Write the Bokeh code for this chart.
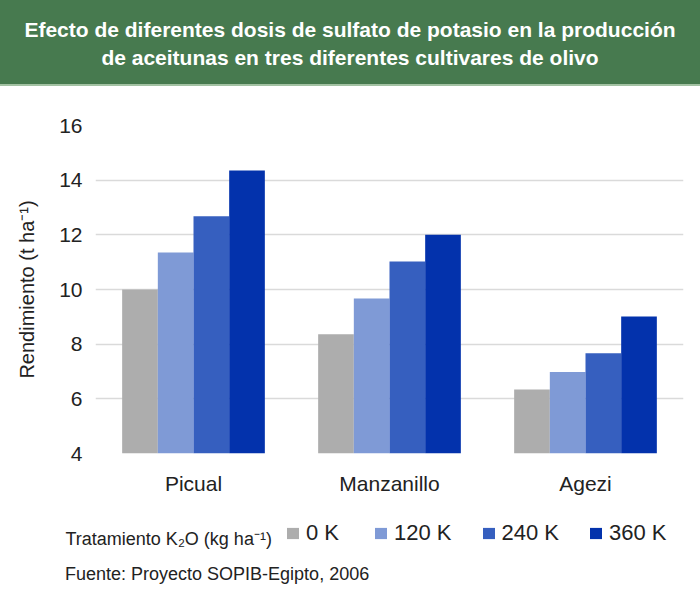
from bokeh.plotting import figure
from bokeh.models import (Range1d, FactorRange, Legend, LegendItem, Label,
                          FixedTicker, ColumnDataSource, Div)
from bokeh.transform import dodge
from bokeh.layouts import column
from bokeh.embed import file_html
from bokeh.resources import INLINE

# ---- data ----
cultivars = ["Picual", "Manzanillo", "Agezi"]
dose_labels = ["0 K", "120 K", "240 K", "360 K"]
k0 = [10.0, 8.36, 6.34]
k120 = [11.35, 9.67, 6.98]
k240 = [12.68, 11.02, 7.67]
k360 = [14.35, 12.0, 9.01]
y_ticks = [4, 6, 8, 10, 12, 14, 16]

title_lines = ["Efecto de diferentes dosis de sulfato de potasio en la producción",
               "de aceitunas en tres diferentes cultivares de olivo"]
legend_title = "Tratamiento K\u2082O (kg ha\u207b\u00b9)"
source_text = "Fuente: Proyecto SOPIB-Egipto, 2006"
y_label = "Rendimiento (t ha\u207b\u00b9)"

colors = ["#adadad", "#7f9ad6", "#365fbf", "#0332ac"]
FONT = "Liberation Sans"
W = 700

# ---- banner ----
banner_html = (
    "<div style=\"box-sizing:border-box;width:700px;height:86px;background:#477a4f;"
    "border-bottom:2px solid #a3c2a3;color:#ffffff;font-family:'Liberation Sans',Arial,sans-serif;"
    "font-weight:bold;font-size:21px;line-height:28.3px;text-align:center;padding-top:15.6px;\">"
    + title_lines[0] + "<br>" + title_lines[1] + "</div>"
)
banner = Div(text=banner_html, width=W, height=86, margin=0)

# ---- main chart ----
src = ColumnDataSource(dict(cultivar=cultivars, k0=k0, k120=k120, k240=k240, k360=k360))
p = figure(width=W, height=429, output_backend="svg", toolbar_location=None,
           x_range=FactorRange(*cultivars, range_padding=0), y_range=Range1d(4, 16),
           min_border_left=95, min_border_right=17, min_border_top=39,
           min_border_bottom=62)
p.frame_align = False
p.margin = 0
p.outline_line_color = None
p.background_fill_color = "white"
p.border_fill_color = "white"

bw = 0.182
offsets = [-1.5 * bw, -0.5 * bw, 0.5 * bw, 1.5 * bw]
keys = ["k0", "k120", "k240", "k360"]
for key, off, col in zip(keys, offsets, colors):
    p.vbar(x=dodge("cultivar", off, range=p.x_range), top=key, bottom=4,
           width=bw, source=src, fill_color=col, line_color=None)

p.xgrid.visible = False
p.ygrid.grid_line_color = "#dadada"
p.ygrid.grid_line_width = 1.5
p.yaxis.ticker = FixedTicker(ticks=y_ticks)

for ax in (p.xaxis[0], p.yaxis[0]):
    ax.axis_line_color = None
    ax.major_tick_line_color = None
    ax.minor_tick_line_color = None
    ax.major_tick_out = 0
    ax.major_tick_in = 0
    ax.major_label_text_font = FONT
    ax.major_label_text_font_size = "21px"
    ax.major_label_text_color = "#222222"

p.xaxis.major_label_standoff = 18
p.yaxis.major_label_standoff = 13
p.yaxis.axis_label = y_label
p.yaxis.axis_label_text_font = FONT
p.yaxis.axis_label_text_font_size = "20px"
p.yaxis.axis_label_text_font_style = "normal"
p.yaxis.axis_label_text_color = "#222222"
p.yaxis.axis_label_standoff = 18

# ---- legend strip ----
lg = figure(width=W, height=40, output_backend="svg", toolbar_location=None,
            x_range=Range1d(0, 1), y_range=Range1d(0, 1),
            x_axis_type=None, y_axis_type=None,
            min_border_left=0, min_border_right=0, min_border_top=0, min_border_bottom=0)
lg.frame_align = False
lg.margin = 0
lg.grid.visible = False
lg.outline_line_color = None
lg.background_fill_color = "white"
lg.border_fill_color = "white"

# hidden proxy renderers that only give the legend its colour swatches
proxy = ColumnDataSource(dict(x=[0.5], top=[k0[0]]))
swatches = [lg.vbar(x="x", top="top", width=0.1, source=proxy, fill_color=c,
                    line_color=None, visible=False)
            for c in colors]
legend = Legend(items=[LegendItem(label=lab, renderers=[r]) for lab, r in zip(dose_labels, swatches)],
                orientation="horizontal", location=(285, 9),
                glyph_width=15, glyph_height=14, label_standoff=6, spacing=29,
                label_width=38, padding=0, margin=0, border_line_color=None,
                background_fill_alpha=0, inactive_fill_alpha=0,
                label_text_font=FONT, label_text_font_size="22px",
                label_text_color="#222222")
lg.add_layout(legend, "center")
lg.add_layout(Label(x=65, y=16.7, x_units="screen", y_units="screen", text=legend_title,
                    text_font=FONT, text_font_size="18px", text_color="#222222",
                    text_baseline="alphabetic"))

# ---- source note ----
source_html = (
    "<div style=\"box-sizing:border-box;width:700px;height:45px;padding-left:65px;padding-top:7.8px;"
    "font-family:'Liberation Sans',Arial,sans-serif;font-size:18px;line-height:22px;color:#222222;\">"
    + source_text + "</div>"
)
source_div = Div(text=source_html, width=W, height=45, margin=0)

layout = column(banner, p, lg, source_div, spacing=0)
open("out.html", "w").write(file_html(layout, INLINE))
